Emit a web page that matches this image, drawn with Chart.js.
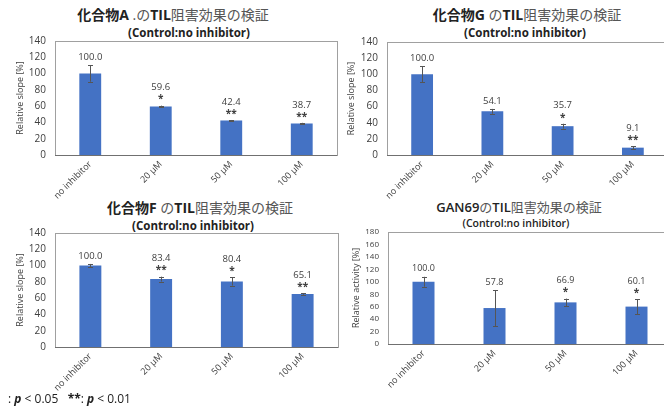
<!DOCTYPE html>
<html>
<head>
<meta charset="utf-8">
<script src="https://cdn.jsdelivr.net/npm/chart.js@4.4.0/dist/chart.umd.min.js"></script>
<style>
  html, body { margin: 0; padding: 0; width: 664px; height: 412px; overflow: hidden; background: #fff;
    font-family: "Open Sans", "Noto Sans CJK JP", sans-serif; }
  .panel { position: absolute; }
  .t { position: absolute; width: 320px; text-align: center; white-space: nowrap; line-height: 1; color: #333; }
  .ttl { font-size: 14px; }
  .ttl b { font-weight: 700; color: #222; }
  .ttl span { font-weight: 400; color: #555; }
  .sub { font-size: 11.5px; font-weight: 700; color: #222; }
  .note { position: absolute; left: 8px; top: 390px; font-size: 12px; color: #222; white-space: nowrap; }
  .note i { font-weight: 700; }
</style>
</head>
<body>

<div class="t ttl" style="left:13px;top:8px;"><b>化合物A</b><span> .の</span><b>TIL</b><span>阻害効果の検証</span></div>
<div class="t sub" style="left:29px;top:27px;">(Control:no inhibitor)</div>

<div class="t ttl" style="left:367px;top:8px;"><b>化合物G</b><span> の</span><b>TIL</b><span>阻害効果の検証</span></div>
<div class="t sub" style="left:365px;top:27px;">(Control:no inhibitor)</div>

<div class="t ttl" style="left:40px;top:201px;"><b>化合物F</b><span> の</span><b>TIL</b><span>阻害効果の検証</span></div>
<div class="t sub" style="left:33px;top:220px;">(Control:no inhibitor)</div>

<div class="t ttl" style="left:359px;top:201px;font-size:13px;"><b style="font-weight:600">GAN69</b><span>の</span><b style="font-weight:600">TIL</b><span>阻害効果の検証</span></div>
<div class="t sub" style="left:356px;top:218px;font-size:10.5px;font-weight:600;">(Control:no inhibitor)</div>

<canvas id="cA" class="panel" width="345" height="200" style="left:0px;top:0px;"></canvas>
<canvas id="cG" class="panel" width="340" height="200" style="left:332px;top:0px;"></canvas>
<canvas id="cF" class="panel" width="346" height="200" style="left:0px;top:195px;"></canvas>
<canvas id="cN" class="panel" width="344" height="200" style="left:332px;top:195px;"></canvas>

<div class="note">: <i>p</i> &lt; 0.05&nbsp;&nbsp;&nbsp;<b>**</b>: <i>p</i> &lt; 0.01</div>

<script>
// Concentrations tested
const categories = ['no inhibitor', '20 µM', '50 µM', '100 µM'];

// Compound A — relative slope [%], SD, significance
const slopeA = [100.0, 59.6, 42.4, 38.7];
const errA   = [10, 1, 0.6, 0.8];
const sigA   = ['', '*', '**', '**'];

// Compound G
const slopeG = [100.0, 54.1, 35.7, 9.1];
const errG   = [10, 3, 3, 2];
const sigG   = ['', '', '*', '**'];

// Compound F
const slopeF = [100.0, 83.4, 80.4, 65.1];
const errF   = [2, 3, 5, 1];
const sigF   = ['', '**', '*', '**'];

// GAN69 — relative activity [%]
const activityN = [100.0, 57.8, 66.9, 60.1];
const errN      = [8, 29, 6, 12];
const sigN      = ['', '', '*', '*'];

const yTicksSlope = { min: 0, max: 140, step: 20 };
const yTicksActivity = { min: 0, max: 180, step: 20 };

const FONT = '"Open Sans", "Noto Sans CJK JP", sans-serif';
const BAR_BLUE = '#4472C4';

// Frame, axis line, error bars, value labels and significance marks
const decor = {
  id: 'decor',
  beforeDatasetsDraw(chart) {
    const { ctx, chartArea: a } = chart;
    ctx.save();
    ctx.strokeStyle = '#a0a0a0';
    ctx.lineWidth = 1;
    ctx.strokeRect(Math.round(a.left) + 0.5, Math.round(a.top) + 0.5,
                   Math.round(a.width), Math.round(a.height));
    ctx.restore();
  },
  afterDatasetsDraw(chart, args, opts) {
    const { ctx, chartArea: a, scales: { y } } = chart;
    const values = chart.data.datasets[0].data;
    const meta = chart.getDatasetMeta(0);
    ctx.save();
    // x axis line
    ctx.strokeStyle = '#707070';
    ctx.lineWidth = 1;
    ctx.beginPath();
    const yb0 = Math.round(a.bottom) + 0.5;
    ctx.moveTo(a.left, yb0);
    ctx.lineTo(a.right, yb0);
    ctx.stroke();

    meta.data.forEach((bar, i) => {
      const v = values[i], e = opts.err[i];
      const yt = y.getPixelForValue(v + e);
      const yb = y.getPixelForValue(v - e);
      const x = Math.round(bar.x) + 0.5;
      ctx.strokeStyle = '#555';
      ctx.lineWidth = 1;
      ctx.beginPath();
      ctx.moveTo(x, yt); ctx.lineTo(x, yb);
      ctx.moveTo(x - 2.5, Math.round(yt) + 0.5); ctx.lineTo(x + 2.5, Math.round(yt) + 0.5);
      ctx.moveTo(x - 2.5, Math.round(yb) + 0.5); ctx.lineTo(x + 2.5, Math.round(yb) + 0.5);
      ctx.stroke();

      const s = opts.sig[i];
      ctx.fillStyle = '#404040';
      ctx.textAlign = 'center';
      ctx.textBaseline = 'middle';
      if (s) {
        ctx.font = '700 10px ' + FONT;
        ctx.fillText(s, bar.x, yt - 9 + 3);
      }
      ctx.font = (opts.labelSize || 9.5) + 'px ' + FONT;
      ctx.fillText(v.toFixed(1), bar.x, yt - (s ? 18 : 8));
    });
    ctx.restore();
  }
};

function makeChart(id, values, err, sig, yRange, yTitle, cfg) {
  return new Chart(document.getElementById(id), {
    type: 'bar',
    data: {
      labels: categories,
      datasets: [{
        data: values,
        backgroundColor: BAR_BLUE,
        borderWidth: 0,
        categoryPercentage: 1.0,
        barPercentage: 0.31
      }]
    },
    options: {
      responsive: false,
      animation: false,
      devicePixelRatio: 1,
      layout: { padding: { top: cfg.top, right: cfg.right, left: 0, bottom: 0 } },
      plugins: {
        legend: { display: false },
        tooltip: { enabled: false },
        decor: { err: err, sig: sig, labelSize: cfg.labelSize }
      },
      scales: {
        x: {
          grid: { display: false, drawTicks: false },
          border: { display: false },
          ticks: {
            minRotation: 45, maxRotation: 45, padding: 4, autoSkip: false,
            color: '#404040', font: { family: FONT, size: 9 }
          },
          afterFit(s) { s.height = cfg.xh; }
        },
        y: {
          min: yRange.min, max: yRange.max,
          grid: { display: false, drawTicks: false },
          border: { display: false },
          ticks: {
            stepSize: yRange.step, padding: 9, autoSkip: false,
            color: '#404040', font: { family: FONT, size: cfg.tickSize || 10 }
          },
          title: {
            display: true, text: yTitle, color: '#404040',
            font: { family: FONT, size: 9 },
            padding: { top: cfg.titlePad, bottom: 0 }
          },
          afterFit(s) { s.width = cfg.yw; }
        }
      }
    },
    plugins: [decor]
  });
}

makeChart('cA', slopeA, errA, sigA, yTicksSlope, 'Relative slope [%]',
  { top: 41, right: 8, xh: 45, yw: 55, titlePad: 15 });
makeChart('cG', slopeG, errG, sigG, yTicksSlope, 'Relative slope [%]',
  { top: 42, right: 4, xh: 45, yw: 55, titlePad: 14 });
makeChart('cF', slopeF, errF, sigF, yTicksSlope, 'Relative slope [%]',
  { top: 38, right: 8, xh: 48, yw: 55, titlePad: 15 });
makeChart('cN', activityN, errN, sigN, yTicksActivity, 'Relative activity [%]',
  { top: 37, right: 4, xh: 51, yw: 56, titlePad: 19, tickSize: 8, labelSize: 9 });
</script>
</body>
</html>
